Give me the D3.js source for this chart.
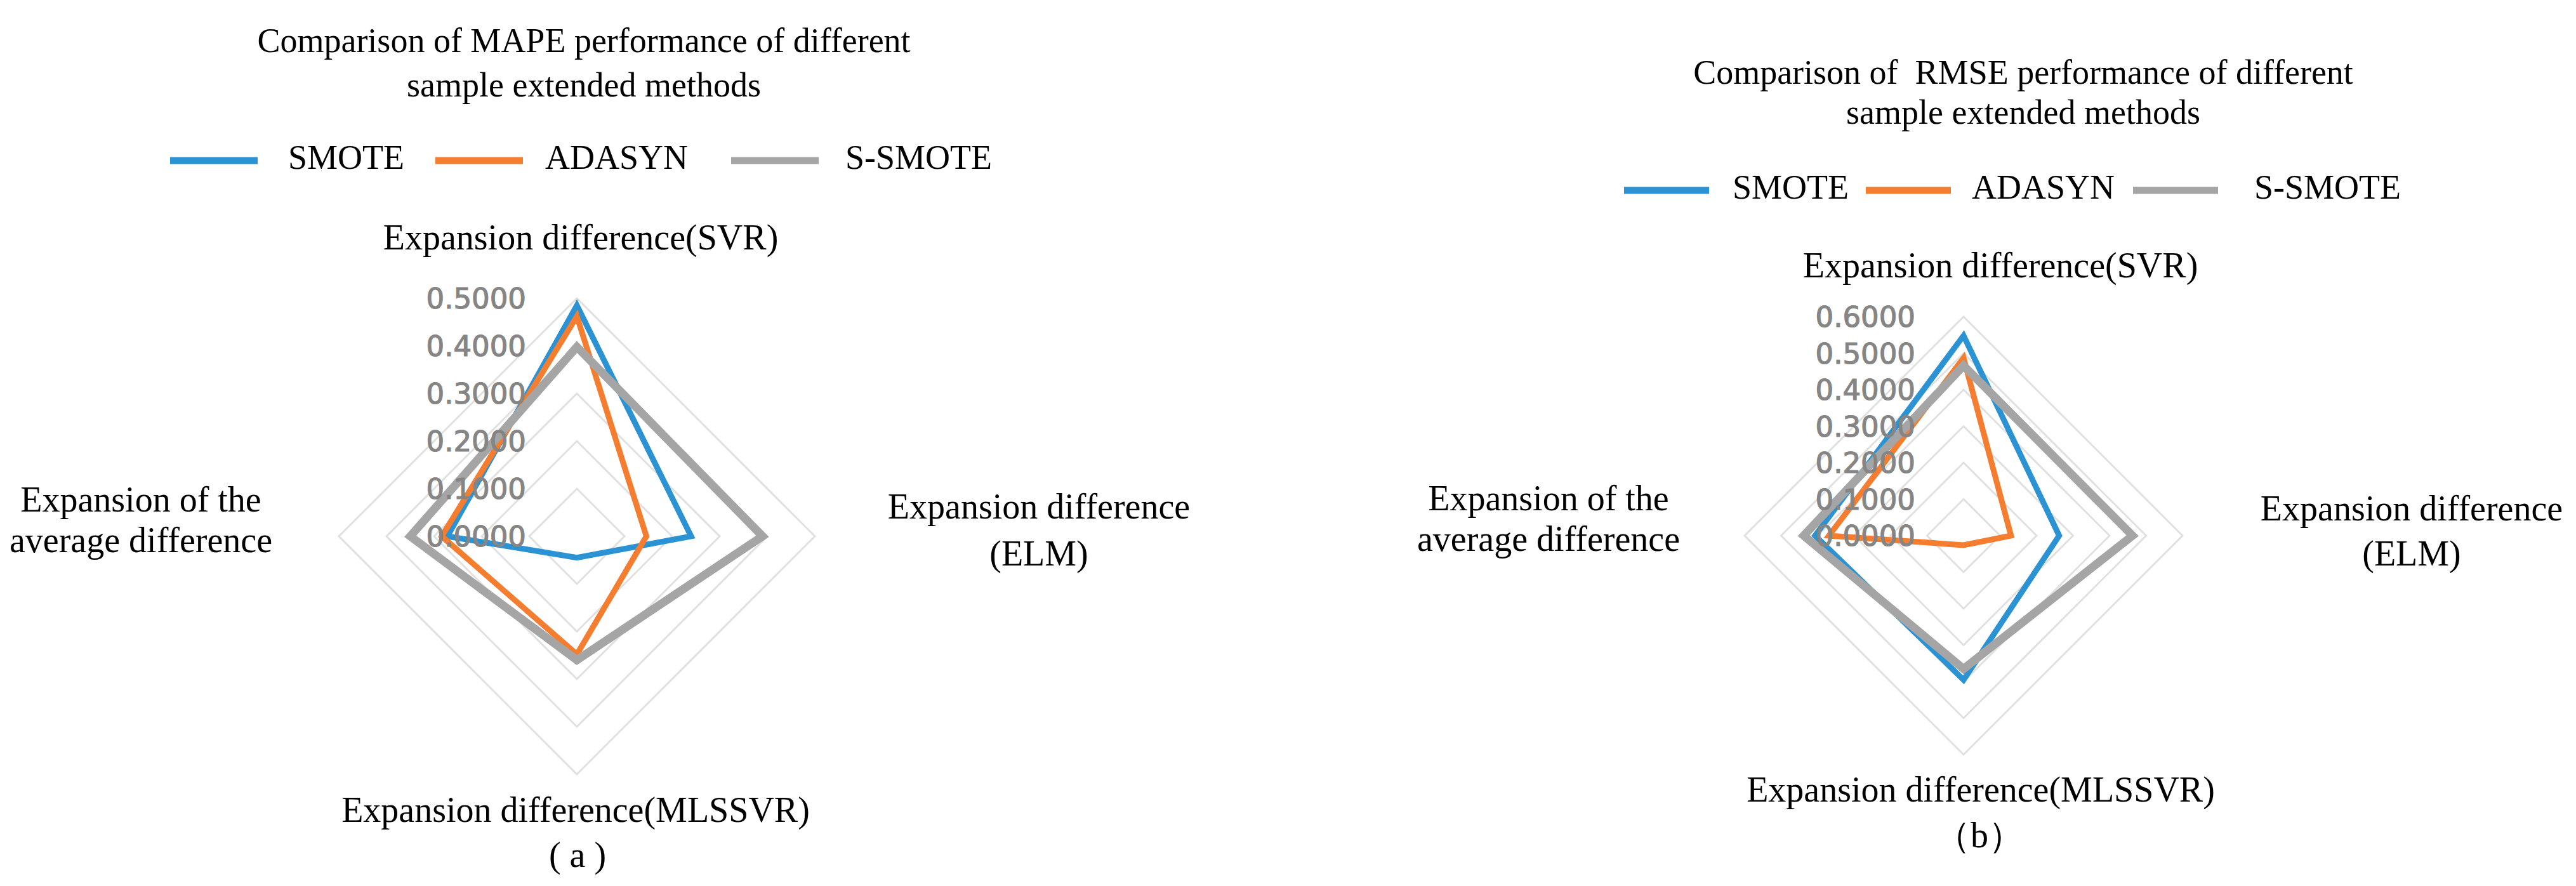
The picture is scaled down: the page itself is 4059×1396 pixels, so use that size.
<!DOCTYPE html>
<html>
<head>
<meta charset="utf-8">
<script src="https://cdn.jsdelivr.net/npm/d3@7"></script>
<style>
  html, body { margin: 0; padding: 0; background: #fff; }
  svg { display: block; }
</style>
</head>
<body>
<div id="chart"></div>
<script>
// -----------------------------
// Data
// -----------------------------
const axisNames = ["SVR", "ELM", "MLSSVR", "Average"];
const methods = ["SMOTE", "ADASYN", "S-SMOTE"];

// MAPE panel (a)
const mapeSMOTE  = [0.485, 0.240, 0.045, 0.272];
const mapeADASYN = [0.462, 0.146, 0.248, 0.284];
const mapeSSMOTE = [0.398, 0.390, 0.260, 0.350];
const mapeTicks  = [0, 0.1, 0.2, 0.3, 0.4, 0.5];

// RMSE panel (b)
const rmseSMOTE  = [0.548, 0.262, 0.395, 0.407];
const rmseADASYN = [0.487, 0.130, 0.026, 0.369];
const rmseSSMOTE = [0.466, 0.463, 0.365, 0.438];
const rmseTicks  = [0, 0.1, 0.2, 0.3, 0.4, 0.5, 0.6];

const colors = { "SMOTE": "#2b93d4", "ADASYN": "#f47d30", "S-SMOTE": "#a5a5a5" };
const widths = { "SMOTE": 9, "ADASYN": 9, "S-SMOTE": 13 };

const width = 4059, height = 1396;
const serif = "'Liberation Serif', 'Times New Roman', serif";

const svg = d3.select("#chart").append("svg")
  .attr("width", width)
  .attr("height", height);

svg.append("rect").attr("width", width).attr("height", height).attr("fill", "#fff");

// -----------------------------
// Panel layouts
// -----------------------------
const panels = [
  {
    cx: 909, cy: 845, radius: 375, ticks: mapeTicks,
    values: [mapeSMOTE, mapeADASYN, mapeSSMOTE],
    title: ["Comparison of MAPE performance of different", "sample extended methods"],
    titleX: 920, titleY: [82, 152],
    legendY: 253, legendLine: [268, 686, 1152], legendText: [454, 859, 1332], legendLen: 138,
    tickRight: 829,
    labels: [
      { lines: ["Expansion difference(SVR)"], x: 915, y: [393] },
      { lines: ["Expansion difference", "(ELM)"], x: 1637, y: [817, 891] },
      { lines: ["Expansion difference(MLSSVR)"], x: 907, y: [1295] },
      { lines: ["Expansion of the", "average difference"], x: 222, y: [806, 870] }
    ],
    caption: "( a )", captionX: 910, captionY: 1366
  },
  {
    cx: 3094, cy: 844, radius: 345, ticks: rmseTicks,
    values: [rmseSMOTE, rmseADASYN, rmseSSMOTE],
    title: ["Comparison of  RMSE performance of different", "sample extended methods"],
    titleX: 3188, titleY: [132, 195],
    legendY: 300, legendLine: [2559, 2940, 3361], legendText: [2730, 3107, 3552], legendLen: 134,
    tickRight: 3018,
    labels: [
      { lines: ["Expansion difference(SVR)"], x: 3152, y: [437] },
      { lines: ["Expansion difference", "(ELM)"], x: 3800, y: [820, 891] },
      { lines: ["Expansion difference(MLSSVR)"], x: 3121, y: [1263] },
      { lines: ["Expansion of the", "average difference"], x: 2440, y: [804, 868] }
    ],
    caption: "（b）", captionX: 3119, captionY: 1335
  }
];

panels.forEach(p => {
  const g = svg.append("g");
  const maxV = d3.max(p.ticks);
  const r = d3.scaleLinear().domain([0, maxV]).range([0, p.radius]);
  const angle = d3.scaleLinear().domain([0, axisNames.length]).range([0, 2 * Math.PI]);

  const radial = d3.lineRadial()
    .angle((d, i) => angle(i))
    .radius(d => r(d))
    .curve(d3.curveLinearClosed);

  const plot = g.append("g").attr("transform", `translate(${p.cx},${p.cy})`);

  // grid rings
  plot.selectAll("path.ring")
    .data(p.ticks.filter(t => t > 0))
    .join("path")
    .attr("class", "ring")
    .attr("d", t => radial(axisNames.map(() => t)))
    .attr("fill", "none")
    .attr("stroke", "#e0e0e0")
    .attr("stroke-width", 3);

  // series
  plot.selectAll("path.series")
    .data(p.values)
    .join("path")
    .attr("class", "series")
    .attr("d", d => radial(d))
    .attr("fill", "none")
    .attr("stroke", (d, i) => colors[methods[i]])
    .attr("stroke-width", (d, i) => widths[methods[i]])
    .attr("stroke-linejoin", "miter");

  // tick labels
  g.selectAll("text.tick")
    .data(p.ticks)
    .join("text")
    .attr("class", "tick")
    .attr("x", p.tickRight)
    .attr("y", t => p.cy - r(t))
    .attr("dy", "0.36em")
    .attr("text-anchor", "end")
    .style("font-family", "'DejaVu Sans', sans-serif")
    .style("font-size", "45px")
    .style("fill", "#858585")
    .style("stroke", "#858585")
    .style("stroke-width", 1.2)
    .text(t => t.toFixed(4));

  // title
  g.selectAll("text.title")
    .data(p.title)
    .join("text")
    .attr("class", "title")
    .attr("x", p.titleX)
    .attr("y", (d, i) => p.titleY[i])
    .attr("text-anchor", "middle")
    .style("font-family", serif)
    .style("font-size", "54px")
    .style("white-space", "pre")
    .attr("xml:space", "preserve")
    .text(d => d);

  // legend
  methods.forEach((m, i) => {
    g.append("line")
      .attr("x1", p.legendLine[i])
      .attr("x2", p.legendLine[i] + p.legendLen)
      .attr("y1", p.legendY)
      .attr("y2", p.legendY)
      .attr("stroke", colors[m])
      .attr("stroke-width", 11);
    g.append("text")
      .attr("x", p.legendText[i])
      .attr("y", p.legendY + 13)
      .style("font-family", serif)
      .style("font-size", "54px")
      .text(m);
  });

  // axis labels
  p.labels.forEach(l => {
    l.lines.forEach((line, j) => {
      g.append("text")
        .attr("x", l.x)
        .attr("y", l.y[j])
        .attr("text-anchor", "middle")
        .style("font-family", serif)
        .style("font-size", "56px")
        .text(line);
    });
  });

  // caption
  g.append("text")
    .attr("x", p.captionX)
    .attr("y", p.captionY)
    .attr("text-anchor", "middle")
    .style("font-family", serif)
    .style("font-size", "56px")
    .text(p.caption);
});
</script>
</body>
</html>
